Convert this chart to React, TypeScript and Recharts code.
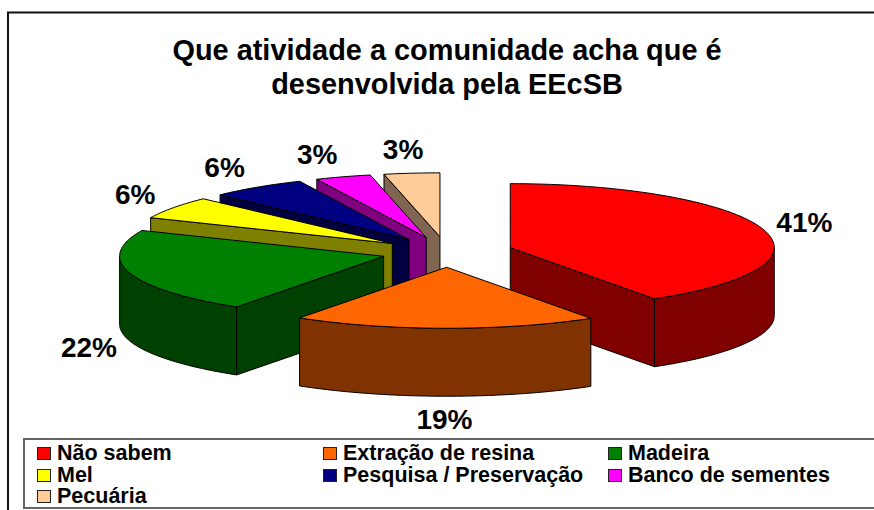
import React from "react";
import { Legend, Pie, PieChart } from "recharts";

// Slice order follows the original: clockwise from 12 o'clock
const categories = [
  "Não sabem",
  "Extração de resina",
  "Madeira",
  "Mel",
  "Pesquisa / Preservação",
  "Banco de sementes",
  "Pecuária",
];
// percentages
const shares = [40.8, 18.6, 22.2, 5.7, 5.9, 3.4, 3.4];
const topColors = ["#ff0000", "#ff6600", "#008000", "#ffff00", "#000080", "#ff00ff", "#ffcc99"];
const sideColors = ["#800000", "#803300", "#004000", "#808000", "#000040", "#800080", "#806650"];

const data = categories.map((name, i) => ({ name, value: shares[i], fill: topColors[i] }));

// back slices are painted first, the orange one last since it overlaps its neighbours
const paintOrder = [6, 5, 4, 3, 2, 0, 1];

const WIDTH = 874;
const HEIGHT = 510;
const CX = 447;
const CY = 252;
const RX = 264;
const RY_FRONT = 61;
const RY_BACK = 64; // far half of the disc looks a bit taller in the original
const DEPTH = 68;
const EXPLODE = 66;
const FONT = "'Liberation Sans', Arial, sans-serif";

const rad = (a: number) => (a * Math.PI) / 180;

// recharts angles start at 3 o'clock and run counter-clockwise
const Wedge = (props: any) => {
  const { startAngle, endAngle, fill, index } = props;
  const mid = (startAngle + endAngle) / 2;
  const ax = CX + EXPLODE * Math.cos(rad(mid));
  const ay = CY - (EXPLODE * RY_FRONT * Math.sin(rad(mid))) / RX;
  const px = (a: number) => ax + RX * Math.cos(rad(a));
  const py = (a: number) => {
    const s = Math.sin(rad(a));
    return ay - (s > 0 ? RY_BACK : RY_FRONT) * s;
  };
  // arc as a run of short segments, because the two halves have different heights
  const arc = (from: number, to: number, dy = 0) => {
    const pts: string[] = [];
    const n = Math.max(2, Math.ceil(Math.abs(from - to)));
    for (let i = 0; i <= n; i++) {
      const a = from + ((to - from) * i) / n;
      pts.push(`${px(a)},${py(a) + dy}`);
    }
    return pts.join(" L");
  };

  const top = `M${ax},${ay} L${arc(startAngle, endAngle)} Z`;
  const wall = (a: number) =>
    `M${ax},${ay} L${px(a)},${py(a)} L${px(a)},${py(a) + DEPTH} L${ax},${ay + DEPTH} Z`;

  // only the cut faces turned to the viewer get drawn
  const showStart = Math.cos(rad(startAngle)) < -0.001;
  const showEnd = Math.cos(rad(endAngle)) > 0.001;

  // rim: the part of the arc on the near side of the ellipse
  const from = Math.min(startAngle, 0);
  const to = Math.max(endAngle, -180);
  const rim = from > to ? `M${arc(from, to)} L${arc(to, from, DEPTH)} Z` : "";

  const sinA = Math.cos(rad(mid));
  const cosA = Math.sin(rad(mid));
  const lx = ax + 286 * sinA + Math.min(1, 3 * Math.abs(sinA)) * Math.sign(sinA) * 20;
  const ly = cosA >= 0 ? ay - 88 * cosA : ay + 84 * -cosA + DEPTH;
  const stroke = { stroke: "#000", strokeWidth: 1, strokeLinejoin: "round" as const };

  return (
    <g>
      {showStart && <path d={wall(startAngle)} fill={sideColors[index]} {...stroke} />}
      {showEnd && <path d={wall(endAngle)} fill={sideColors[index]} {...stroke} />}
      {rim && <path d={rim} fill={sideColors[index]} {...stroke} />}
      <path d={top} fill={fill} {...stroke} />
      <text
        x={lx}
        y={ly}
        textAnchor="middle"
        dominantBaseline="central"
        fontFamily={FONT}
        fontWeight="bold"
        fontSize={28}
        fill="#000"
      >
        {Math.round(shares[index])}%
      </text>
    </g>
  );
};

const legendColumns = [0, 286, 571];

const renderLegend = () => (
  <div
    style={{
      position: "relative",
      width: 860,
      height: 71,
      boxSizing: "border-box",
      borderTop: "2px solid #666",
      borderBottom: "2px solid #666",
      borderLeft: "2px solid #666",
      fontFamily: FONT,
      fontWeight: "bold",
      fontSize: 21.5,
      color: "#000",
    }}
  >
    {categories.map((name, i) => (
      <div
        key={name}
        style={{
          position: "absolute",
          left: 12 + legendColumns[i % 3],
          top: 3 + Math.floor(i / 3) * 21.5,
          height: 21,
          lineHeight: "21px",
          whiteSpace: "nowrap",
        }}
      >
        <span
          style={{
            position: "absolute",
            left: 0,
            top: 4,
            width: 14,
            height: 13,
            boxSizing: "border-box",
            border: "1px solid #222",
            background: topColors[i],
          }}
        />
        <span style={{ marginLeft: 20 }}>{name}</span>
      </div>
    ))}
  </div>
);

const App = () => (
  <div style={{ position: "absolute", left: 0, top: 0, width: WIDTH, height: HEIGHT, overflow: "hidden", background: "#fff" }}>
    <PieChart width={WIDTH} height={HEIGHT} margin={{ top: 0, right: 0, bottom: 0, left: 0 }}>
      <rect x={8} y={12.5} width={WIDTH + 10} height={HEIGHT} fill="none" stroke="#111" strokeWidth={2} />
      <text x={447} y={60} textAnchor="middle" fontFamily={FONT} fontWeight="bold" fontSize={28.9} fill="#000">
        Que atividade a comunidade acha que é
      </text>
      <text x={447} y={94} textAnchor="middle" fontFamily={FONT} fontWeight="bold" fontSize={28.9} fill="#000">
        desenvolvida pela EEcSB
      </text>
      {paintOrder.map((slice) => (
        <Pie
          key={slice}
          data={data}
          dataKey="value"
          nameKey="name"
          cx={CX}
          cy={CY}
          outerRadius={RX}
          startAngle={90}
          endAngle={-270}
          paddingAngle={0}
          isAnimationActive={false}
          shape={(props: any) => (props.index === slice ? <Wedge {...props} /> : <g />)}
        />
      ))}
      <Legend
        content={renderLegend}
        wrapperStyle={{ position: "absolute", left: 23, top: 438, width: 860, height: 71, bottom: "auto" }}
      />
    </PieChart>
  </div>
);

export default App;
